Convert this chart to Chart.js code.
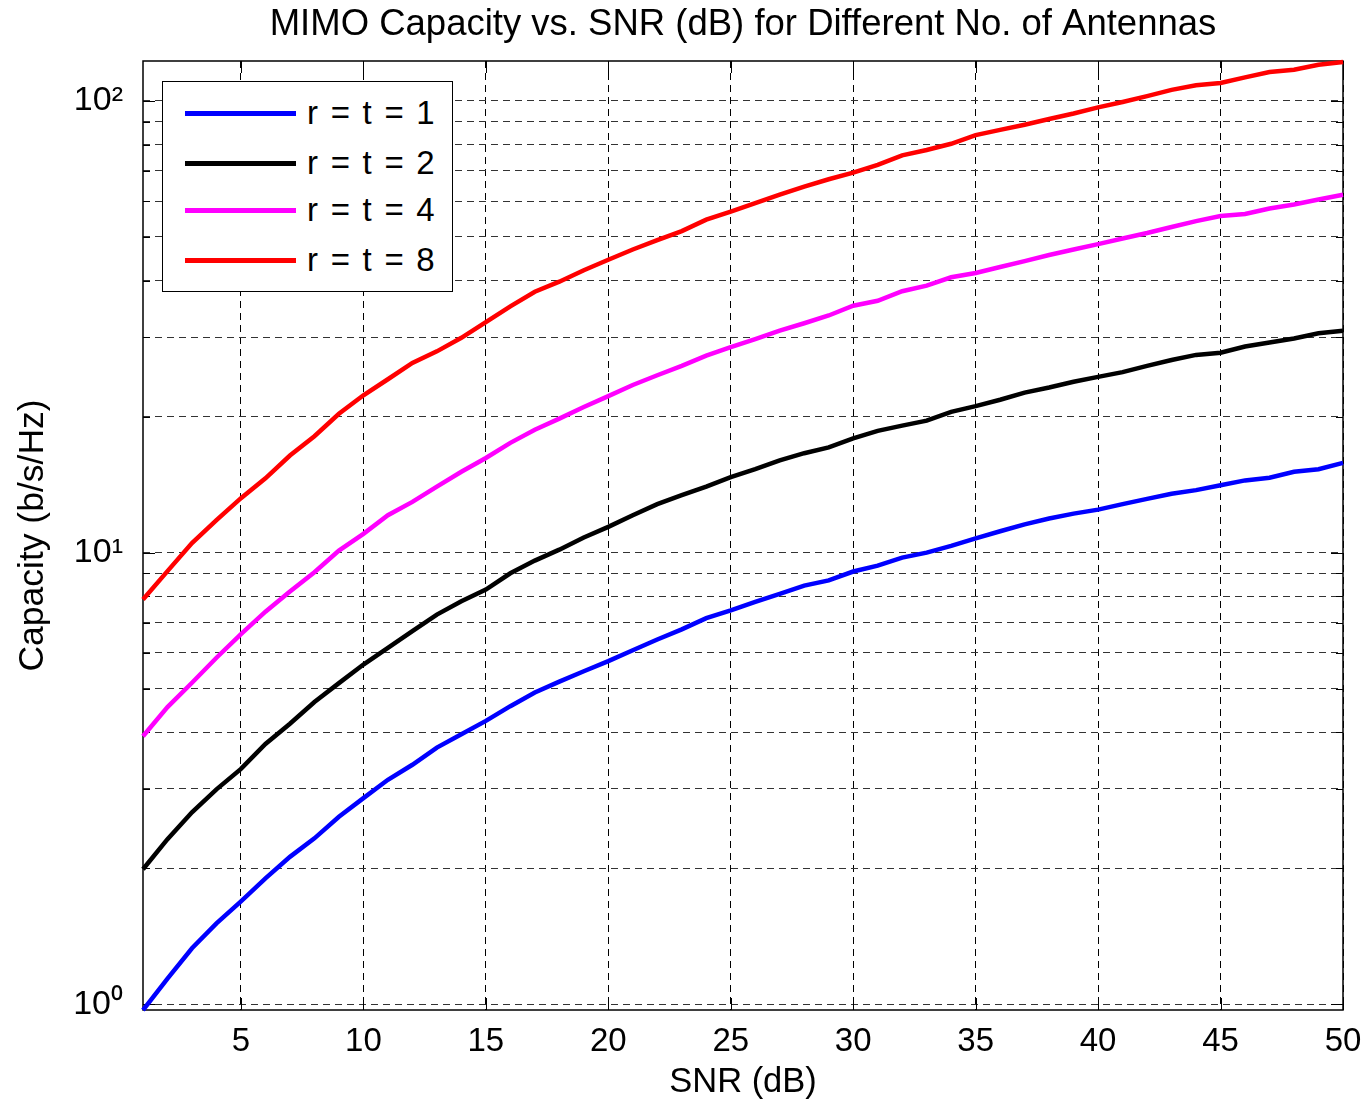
<!DOCTYPE html>
<html>
<head>
<meta charset="utf-8">
<script src="https://cdn.jsdelivr.net/npm/chart.js@4.4.1/dist/chart.umd.min.js"></script>
<style>
  html, body { margin: 0; padding: 0; background: #fff; }
  #wrap { position: relative; width: 1370px; height: 1106px; }
  #legend { position: absolute; left: 162px; top: 81px; width: 289px; height: 209px;
            border: 1.5px solid #000; background: #fff; font-family: "Liberation Sans", Arial, sans-serif;
            font-size: 33px; color: #000; }
  .row { position: absolute; left: 0; height: 40px; }
  .row .ln { position: absolute; left: 22px; width: 111px; height: 4.5px; top: 18px; }
  .row .tx { position: absolute; left: 144px; top: 0; line-height: 40px; white-space: pre; word-spacing: 3.5px; }
</style>
</head>
<body>
<div id="wrap">
  <canvas id="c" width="1370" height="1106"></canvas>
  <div id="legend"></div>
</div>
<script>
const titleText = 'MIMO Capacity vs. SNR (dB) for Different No. of Antennas';
const xLabel = 'SNR (dB)';
const yLabel = 'Capacity (b/s/Hz)';

const snr = [1,2,3,4,5,6,7,8,9,10,11,12,13,14,15,16,17,18,19,20,21,22,23,24,25,26,27,28,29,30,31,32,33,34,35,36,37,38,39,40,41,42,43,44,45,46,47,48,49,50];

const seriesLabels = ['r = t = 1', 'r = t = 2', 'r = t = 4', 'r = t = 8'];
const seriesColors = ['#0000ff', '#000000', '#ff00ff', '#ff0000'];

const cap1 = [0.97,1.14,1.33,1.51,1.69,1.90,2.12,2.33,2.60,2.86,3.14,3.39,3.70,3.96,4.24,4.57,4.90,5.18,5.46,5.75,6.08,6.42,6.76,7.16,7.45,7.78,8.10,8.45,8.68,9.08,9.36,9.75,10.0,10.35,10.75,11.15,11.55,11.9,12.2,12.45,12.8,13.15,13.5,13.75,14.1,14.45,14.65,15.1,15.3,15.8];
const cap2 = [1.99,2.32,2.66,2.99,3.32,3.77,4.18,4.67,5.14,5.65,6.15,6.7,7.29,7.8,8.28,9.0,9.6,10.15,10.8,11.4,12.1,12.8,13.4,14.0,14.7,15.3,16.0,16.6,17.1,17.9,18.6,19.1,19.6,20.5,21.1,21.8,22.6,23.2,23.9,24.5,25.1,25.9,26.7,27.4,27.7,28.6,29.2,29.8,30.6,31.0];
const cap4 = [3.92,4.55,5.15,5.85,6.6,7.4,8.2,9.05,10.1,11.0,12.1,12.95,14.0,15.1,16.2,17.5,18.7,19.8,21.0,22.2,23.5,24.7,25.9,27.3,28.5,29.7,31.0,32.2,33.5,35.2,36.1,37.9,39.0,40.7,41.6,42.9,44.2,45.6,46.9,48.2,49.6,51.0,52.6,54.2,55.6,56.2,57.8,59.0,60.5,62.0];
const cap8 = [7.87,9.1,10.5,11.8,13.2,14.6,16.4,18.1,20.3,22.3,24.2,26.3,27.9,29.9,32.4,35.1,37.8,39.8,42.2,44.5,46.9,49.2,51.5,54.6,56.9,59.4,62.0,64.6,67.1,69.4,72.2,75.8,77.9,80.4,84.0,86.3,88.6,91.2,93.8,96.8,99.5,102.5,105.8,108.3,109.6,112.8,115.9,117.3,120.3,122.0];

const xTicks = [5,10,15,20,25,30,35,40,45,50];
const yTicks = [1,2,3,4,5,6,7,8,9,10,20,30,40,50,60,70,80,90,100];
const yTickLabels = {1: '10\u2070', 10: '10\u00b9', 100: '10\u00b2'};
const xRange = [1, 50];
const yRange = [0.971, 122.6];

const FONT = '"Liberation Sans", Arial, Helvetica, sans-serif';
const allSeries = [cap1, cap2, cap4, cap8];

const datasets = allSeries.map((arr, i) => ({
  label: seriesLabels[i],
  data: snr.map((x, j) => ({x: x, y: arr[j]})),
  borderColor: seriesColors[i],
  backgroundColor: seriesColors[i],
  borderWidth: 4.5,
  pointRadius: 0,
  tension: 0,
  fill: false,
  clip: false
}));

const boxPlugin = {
  id: 'matlabBox',
  beforeDatasetsDraw(chart) {
    const {ctx, chartArea: a, scales} = chart;
    ctx.save();
    ctx.strokeStyle = '#000';
    ctx.lineWidth = 1.5;
    ctx.setLineDash([]);
    ctx.strokeRect(a.left, a.top, a.right - a.left, a.bottom - a.top);
    ctx.lineWidth = 1;
    ctx.beginPath();
    scales.x.ticks.forEach(t => {
      const px = Math.round(scales.x.getPixelForValue(t.value)) + 0.5;
      ctx.moveTo(px, a.bottom); ctx.lineTo(px, a.bottom - 12);
      ctx.moveTo(px, a.top); ctx.lineTo(px, a.top + 12);
    });
    scales.y.ticks.forEach(t => {
      const py = Math.round(scales.y.getPixelForValue(t.value)) + 0.5;
      const len = yTickLabels[t.value] ? 12 : 7;
      ctx.moveTo(a.left, py); ctx.lineTo(a.left + len, py);
      ctx.moveTo(a.right, py); ctx.lineTo(a.right - len, py);
    });
    ctx.stroke();
    ctx.restore();
  }
};

const chart = new Chart(document.getElementById('c'), {
  type: 'line',
  data: { datasets: datasets },
  options: {
    responsive: false,
    animation: false,
    devicePixelRatio: 1,
    layout: { padding: { left: 0, right: 27, top: 0, bottom: 0 } },
    plugins: {
      legend: { display: false },
      tooltip: { enabled: false },
      title: {
        display: true,
        text: titleText,
        fullSize: false,
        color: '#000',
        font: { family: FONT, size: 36.5, weight: 'normal', lineHeight: 1.2 },
        padding: { top: 3, bottom: 14.2 }
      }
    },
    scales: {
      x: {
        type: 'linear',
        min: xRange[0],
        max: xRange[1],
        afterBuildTicks(scale) { scale.ticks = xTicks.map(v => ({value: v})); },
        afterFit(scale) { scale.height = 96; scale.paddingRight = 0; scale.paddingLeft = 0; },
        ticks: {
          color: '#000',
          font: { family: FONT, size: 33 },
          padding: 12,
          maxRotation: 0,
          autoSkip: false,
          callback: v => String(v)
        },
        grid: { color: '#000', lineWidth: 1, drawTicks: false },
        border: { display: false, dash: [7, 5] },
        title: {
          display: true, text: xLabel, color: '#000',
          font: { family: FONT, size: 34.5, lineHeight: 1.2 },
          padding: { top: 0, bottom: 3 }
        }
      },
      y: {
        type: 'logarithmic',
        min: yRange[0],
        max: yRange[1],
        afterBuildTicks(scale) { scale.ticks = yTicks.map(v => ({value: v})); },
        afterFit(scale) { scale.width = 143; scale.paddingTop = 0; scale.paddingBottom = 0; },
        ticks: {
          color: '#000',
          font: { family: FONT, size: 34 },
          padding: 20,
          autoSkip: false,
          callback: v => yTickLabels[v] || ''
        },
        grid: { color: '#333', lineWidth: 1, drawTicks: false },
        border: { display: false, dash: [7, 5] },
        title: {
          display: true, text: yLabel, color: '#000',
          font: { family: FONT, size: 35.5, lineHeight: 1.2 },
          padding: { top: 12, bottom: 0 }
        }
      }
    }
  },
  plugins: [boxPlugin]
});

// HTML legend built from the chart's datasets
const legendEl = document.getElementById('legend');
const rowTops = [11, 61, 108, 158];
chart.data.datasets.forEach((ds, i) => {
  const row = document.createElement('div');
  row.className = 'row';
  row.style.top = rowTops[i] + 'px';
  const ln = document.createElement('div');
  ln.className = 'ln';
  ln.style.background = ds.borderColor;
  const tx = document.createElement('div');
  tx.className = 'tx';
  tx.textContent = ds.label;
  row.appendChild(ln);
  row.appendChild(tx);
  legendEl.appendChild(row);
});
</script>
</body>
</html>
